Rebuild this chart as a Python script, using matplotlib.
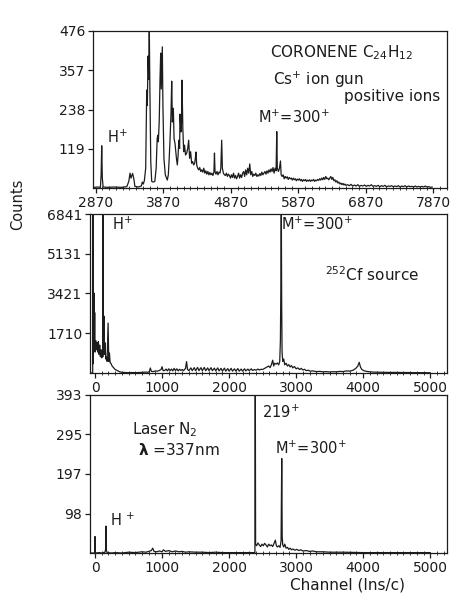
import matplotlib
matplotlib.use("Agg")
import matplotlib.pyplot as plt
from matplotlib.ticker import MultipleLocator

plt.rcParams['font.family'] = ['DejaVu Sans']

# ---------------- data ----------------
# Panel 1: Coronene, Cs+ ion gun (channel, counts)
p1_channel = [2850, 2900, 2940, 2950, 2959, 2968, 2980, 3050, 3150, 3250, 3330, 3360, 3378, 3392,
              3405, 3417, 3437, 3450, 3500, 3545, 3560, 3575, 3590, 3610, 3625, 3634, 3645, 3655,
              3663, 3672, 3685, 3699, 3720, 3745, 3765, 3780, 3790, 3797, 3810, 3822, 3832, 3840,
              3856, 3865, 3880, 3900, 3930, 3945, 3958, 3970, 3985, 3995, 4005, 4019, 4030, 4044,
              4055, 4065, 4078, 4090, 4100, 4112, 4118, 4132, 4140, 4147, 4160, 4172, 4185, 4200,
              4217, 4232, 4246, 4260, 4275, 4290, 4305, 4320, 4335, 4345, 4354, 4365, 4380, 4395,
              4410, 4425, 4440, 4455, 4470, 4485, 4500, 4515, 4530, 4545, 4560, 4575, 4590, 4605,
              4620, 4628, 4636, 4650, 4665, 4680, 4695, 4710, 4722, 4735, 4745, 4760, 4775, 4790,
              4805, 4820, 4835, 4850, 4865, 4880, 4895, 4910, 4925, 4940, 4955, 4970, 4985, 5000,
              5015, 5030, 5045, 5060, 5075, 5090, 5105, 5120, 5135, 5150, 5165, 5180, 5195, 5210,
              5225, 5240, 5255, 5270, 5285, 5300, 5315, 5330, 5345, 5360, 5375, 5390, 5405, 5420,
              5435, 5450, 5465, 5480, 5495, 5510, 5525, 5540, 5550, 5558, 5575, 5590, 5605, 5615,
              5630, 5645, 5660, 5675, 5690, 5705, 5720, 5735, 5750, 5765, 5780, 5795, 5810, 5825,
              5840, 5855, 5870, 5885, 5900, 5915, 5930, 5945, 5960, 5975, 5990, 6005, 6020, 6035,
              6050, 6065, 6080, 6095, 6110, 6125, 6140, 6155, 6170, 6185, 6200, 6215, 6230, 6245,
              6260, 6275, 6290, 6305, 6320, 6335, 6350, 6365, 6380, 6395, 6410, 6425, 6440, 6455,
              6470, 6485, 6500, 6515, 6530, 6545, 6560, 6575, 6600, 6625, 6650, 6675, 6700, 6725,
              6750, 6775, 6800, 6825, 6850, 6875, 6900, 6925, 6950, 6975, 7000, 7025, 7050, 7075,
              7100, 7125, 7150, 7175, 7200, 7225, 7250, 7275, 7300, 7325, 7350, 7375, 7400, 7425,
              7450, 7475, 7500, 7525, 7550, 7575, 7600, 7625, 7650, 7675, 7700, 7725, 7750, 7775,
              7800, 7825, 7850]
p1_counts = [2, 3, 2, 40, 128, 30, 3, 2, 3, 2, 4, 20, 45, 30,
             38, 44, 25, 5, 3, 6, 18, 12, 22, 60, 297, 250, 400, 330,
             490, 300, 80, 20, 18, 20, 60, 150, 160, 140, 200, 330, 409, 300,
             428, 250, 90, 40, 24, 40, 90, 145, 230, 324, 200, 242, 150, 135,
             110, 90, 70, 100, 145, 120, 224, 170, 200, 327, 180, 110, 130, 100,
             106, 120, 145, 90, 110, 75, 80, 70, 75, 90, 109, 70, 60, 55,
             62, 50, 55, 48, 60, 45, 52, 42, 50, 40, 47, 40, 45, 38,
             48, 106, 50, 42, 50, 40, 48, 45, 60, 145, 60, 45, 40, 38,
             45, 35, 42, 38, 30, 40, 32, 45, 30, 38, 28, 35, 45, 30,
             40, 32, 45, 50, 35, 55, 40, 60, 45, 73, 40, 50, 35, 42,
             38, 45, 35, 40, 36, 44, 38, 48, 40, 45, 50, 42, 52, 45,
             55, 48, 58, 50, 62, 45, 60, 52, 171, 60, 50, 60, 82, 40,
             35, 40, 28, 35, 30, 34, 26, 32, 28, 30, 24, 30, 25, 28,
             22, 27, 24, 28, 22, 26, 20, 25, 22, 26, 20, 24, 21, 25,
             20, 24, 22, 26, 20, 24, 22, 26, 23, 28, 24, 30, 25, 32,
             26, 35, 28, 30, 25, 30, 35, 26, 32, 22, 25, 18, 22, 15,
             18, 12, 15, 10, 14, 9, 12, 8, 10, 7, 11, 6, 9, 6,
             10, 5, 8, 6, 9, 5, 8, 6, 10, 5, 7, 5, 8, 4,
             7, 5, 8, 4, 6, 5, 7, 4, 6, 4, 7, 3, 6, 4,
             7, 3, 6, 4, 5, 3, 6, 3, 5, 3, 5, 3, 6, 3,
             4, 2, 3]

# Panel 2: 252Cf source (channel, counts)
p2_channel = [-70, -35, -30, -27, -20, -15, -10, -5, 0, 10, 20, 30, 40, 50, 60, 70, 80, 90, 100,
              110, 117, 120, 124, 132, 140, 150, 160, 170, 180, 195, 205, 215, 225, 240, 255, 270,
              285, 300, 320, 345, 370, 400, 450, 500, 550, 600, 650, 700, 750, 790, 810, 825, 840,
              870, 900, 930, 960, 985, 1000, 1015, 1040, 1060, 1080, 1100, 1120, 1140, 1160, 1180,
              1200, 1220, 1240, 1260, 1280, 1300, 1320, 1350, 1365, 1380, 1400, 1430, 1450, 1480,
              1500, 1530, 1550, 1580, 1600, 1630, 1650, 1680, 1700, 1730, 1750, 1780, 1800, 1830,
              1850, 1880, 1900, 1930, 1950, 1980, 2000, 2030, 2050, 2080, 2100, 2130, 2150, 2180,
              2200, 2230, 2250, 2280, 2300, 2330, 2350, 2380, 2400, 2430, 2450, 2480, 2500, 2530,
              2560, 2590, 2610, 2630, 2650, 2665, 2680, 2700, 2720, 2740, 2755, 2765, 2772, 2778,
              2784, 2790, 2800, 2815, 2830, 2850, 2870, 2890, 2910, 2930, 2950, 2975, 3000, 3025,
              3050, 3075, 3100, 3125, 3150, 3180, 3210, 3250, 3300, 3350, 3400, 3450, 3500, 3550,
              3600, 3650, 3700, 3750, 3800, 3850, 3890, 3920, 3940, 3960, 3980, 4010, 4050, 4100,
              4150, 4200, 4300, 4400, 4500, 4600, 4700, 4800, 4900, 5000]
p2_counts = [0, 0, 7500, 400, 1500, 3440, 1200, 2600, 900, 1400, 1000, 1300, 900, 1350, 800, 1200, 700, 1000, 650,
             900, 700, 7500, 900, 2450, 800, 1300, 600, 700, 500, 2150, 500, 860, 450, 400, 300, 250,
             200, 150, 120, 80, 50, 30, 20, 15, 20, 15, 20, 25, 40, 30, 60, 215, 70,
             60, 90, 80, 110, 150, 270, 100, 110, 170, 90, 180, 100, 170, 90, 200,
             100, 180, 90, 160, 110, 150, 100, 200, 490, 150, 100, 220, 100, 230,
             100, 240, 100, 230, 100, 240, 100, 220, 100, 230, 100, 210, 90, 220,
             90, 200, 80, 210, 80, 190, 80, 200, 80, 180, 80, 190, 80, 170,
             80, 180, 90, 170, 100, 180, 110, 150, 120, 170, 130, 160, 150, 200,
             250, 300, 230, 350, 550, 300, 420, 380, 430, 350, 500, 1400, 3780, 7500,
             3000, 900, 500, 600, 350, 420, 300, 360, 260, 320, 220, 280, 180, 220,
             150, 200, 130, 160, 100, 120, 80, 90, 60, 70, 50, 60, 45, 55,
             50, 70, 60, 90, 80, 120, 200, 300, 460, 250, 150, 100, 70, 50,
             40, 35, 30, 25, 25, 20, 20, 15, 15, 10]

# Panel 3: Laser N2, 337 nm (channel, counts)
p3_channel = [-70, -10, -5, 0, 5, 20, 60, 100, 150, 158, 163, 168, 180, 250, 300, 400, 500, 600, 700,
              760, 800, 840, 860, 880, 920, 960, 1000, 1020, 1050, 1100, 1150, 1200, 1250, 1300,
              1350, 1400, 1500, 1600, 1700, 1800, 1900, 2000, 2100, 2200, 2300, 2385, 2390, 2395,
              2410, 2430, 2450, 2470, 2490, 2510, 2530, 2550, 2570, 2590, 2610, 2630, 2650, 2670,
              2690, 2705, 2720, 2740, 2760, 2775, 2785, 2792, 2800, 2815, 2830, 2850, 2870, 2890,
              2910, 2930, 2950, 2980, 3010, 3040, 3070, 3100, 3150, 3200, 3250, 3300, 3400, 3500,
              3700, 4000, 4500, 5000]
p3_counts = [0, 0, 2, 41, 2, 0, 1, 0, 2, 10, 67, 8, 1, 0, 1, 0, 2, 1, 3,
             2, 4, 6, 12, 4, 3, 5, 3, 8, 4, 6, 3, 5, 3, 4,
             2, 3, 2, 2, 1, 2, 1, 1, 1, 1, 1, 1, 500, 22,
             18, 25, 20, 16, 22, 18, 24, 20, 15, 22, 18, 20, 16, 24,
             32, 18, 15, 18, 14, 30, 235, 40, 20, 15, 22, 12, 14, 9,
             12, 8, 10, 7, 9, 6, 8, 5, 6, 4, 5, 3, 3, 2,
             2, 1, 1, 1]

p1_xticks = [2870, 3870, 4870, 5870, 6870, 7870]
p1_yticks = [119, 238, 357, 476]
p2_xticks = [0, 1000, 2000, 3000, 4000, 5000]
p2_yticks = [1710, 3421, 5131, 6841]
p3_xticks = [0, 1000, 2000, 3000, 4000, 5000]
p3_yticks = [98, 197, 295, 393]

# ---------------- figure ----------------
W, H = 466, 594
fig = plt.figure(figsize=(W / 100, H / 100), dpi=100)
ink = '#1c1c1c'


def make_axes(left, top, right, bottom):
    return fig.add_axes([left / W, 1 - bottom / H, (right - left) / W, (bottom - top) / H])


def style(ax, xticks, yticks, xlim, ylim, minor_offset):
    ax.set_xlim(*xlim)
    ax.set_ylim(*ylim)
    ax.set_xticks(xticks)
    ax.set_xticklabels([str(t) for t in xticks])
    ax.set_yticks(yticks)
    ax.set_yticklabels([str(t) for t in yticks])
    ax.xaxis.set_minor_locator(MultipleLocator(100, offset=minor_offset))
    ax.tick_params(axis='both', which='major', direction='out', length=3.5, width=0.9,
                   labelsize=10, colors=ink, pad=2)
    ax.tick_params(axis='x', which='minor', direction='inout', length=2.5, width=0.6, colors=ink)
    for sp in ax.spines.values():
        sp.set_color(ink)
        sp.set_linewidth(0.9)


ax1 = make_axes(93, 31, 447, 188)
ax1.plot(p1_channel, p1_counts, color=ink, lw=0.9)
style(ax1, p1_xticks, p1_yticks, (2830, 8070), (0, 476), 70)

ax2 = make_axes(90, 214, 447, 373)
ax2.plot(p2_channel, p2_counts, color=ink, lw=0.9)
style(ax2, p2_xticks, p2_yticks, (-75, 5250), (0, 6841), 0)

ax3 = make_axes(90, 395, 447, 553)
ax3.plot(p3_channel, p3_counts, color=ink, lw=0.9)
style(ax3, p3_xticks, p3_yticks, (-75, 5250), (0, 393), 0)

fs = 11
# panel 1 annotations
ax1.text(0.50, 0.86, 'CORONENE C$_{24}$H$_{12}$', transform=ax1.transAxes, fontsize=fs,
         color=ink, va='center', ha='left')
ax1.text(0.508, 0.688, 'Cs$^{+}$ ion gun', transform=ax1.transAxes, fontsize=fs,
         color=ink, va='center', ha='left')
ax1.text(0.98, 0.58, 'positive ions', transform=ax1.transAxes, fontsize=fs,
         color=ink, va='center', ha='right')
ax1.text(0.466, 0.452, 'M$^{+}$=300$^{+}$', transform=ax1.transAxes, fontsize=fs - 0.5,
         color=ink, va='center', ha='left')
ax1.text(0.04, 0.325, 'H$^{+}$', transform=ax1.transAxes, fontsize=fs - 0.5,
         color=ink, va='center', ha='left')

# panel 2 annotations
ax2.text(0.062, 0.935, 'H$^{+}$', transform=ax2.transAxes, fontsize=fs - 0.5,
         color=ink, va='center', ha='left')
ax2.text(0.535, 0.935, 'M$^{+}$=300$^{+}$', transform=ax2.transAxes, fontsize=fs - 0.5,
         color=ink, va='center', ha='left')
ax2.text(0.658, 0.616, '$^{252}$Cf source', transform=ax2.transAxes, fontsize=fs,
         color=ink, va='center', ha='left')

# panel 3 annotations
ax3.text(0.482, 0.892, '219$^{+}$', transform=ax3.transAxes, fontsize=fs - 0.5,
         color=ink, va='center', ha='left')
ax3.text(0.118, 0.778, 'Laser N$_{2}$', transform=ax3.transAxes, fontsize=fs,
         color=ink, va='center', ha='left')
ax3.text(0.134, 0.652, r'$\mathbf{\lambda}$ =337nm', transform=ax3.transAxes, fontsize=fs,
         color=ink, va='center', ha='left')
ax3.text(0.518, 0.665, 'M$^{+}$=300$^{+}$', transform=ax3.transAxes, fontsize=fs - 0.5,
         color=ink, va='center', ha='left')
ax3.text(0.056, 0.209, 'H $^{+}$', transform=ax3.transAxes, fontsize=fs - 0.5,
         color=ink, va='center', ha='left')

fig.text(18 / W, 1 - 204 / H, 'Counts', rotation=90, fontsize=10.5, color=ink,
         va='center', ha='center')
fig.text(348 / W, 1 - 585 / H, 'Channel (Ins/c)', fontsize=11, color=ink,
         va='center', ha='center')

fig.savefig('out.png', dpi=100, facecolor='white')
